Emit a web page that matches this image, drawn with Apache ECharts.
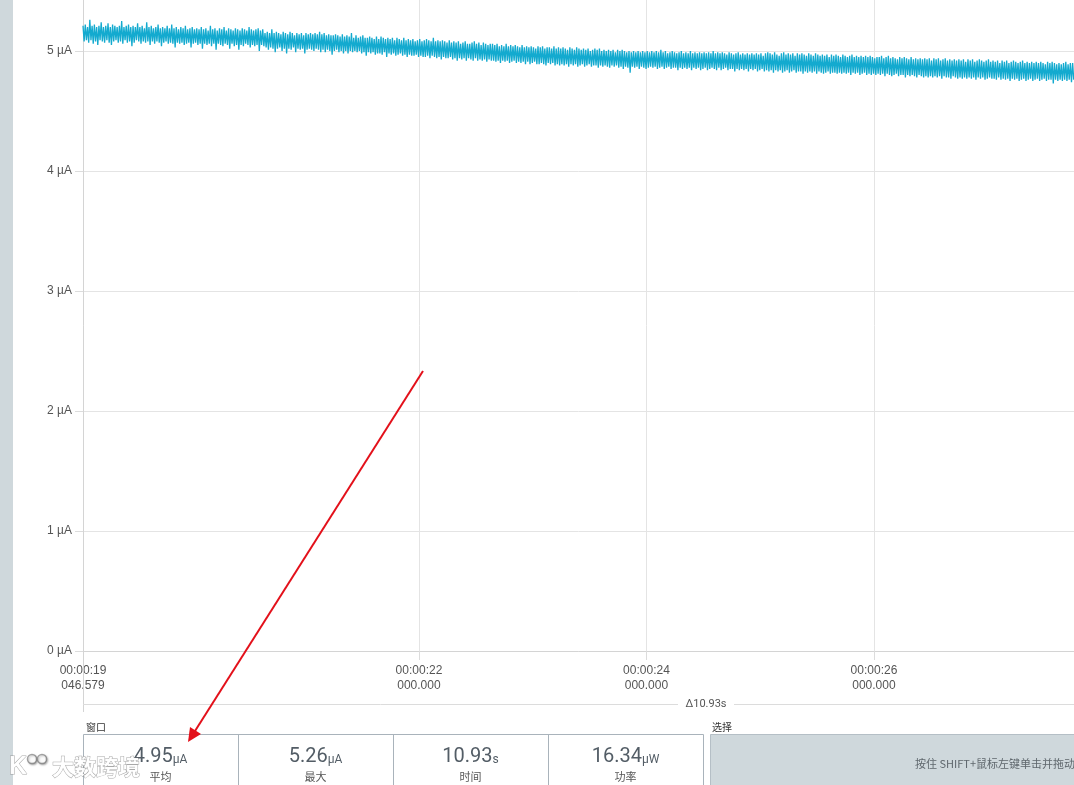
<!DOCTYPE html>
<html>
<head>
<meta charset="utf-8">
<title>Current trace</title>
<script src="https://cdn.jsdelivr.net/npm/echarts@6/dist/echarts.min.js"></script>
<style>
  html, body { margin: 0; padding: 0; background: #ffffff; }
  #chart { width: 1074px; height: 785px; }
</style>
</head>
<body>
<div id="chart"></div>
<script>
// Visible part of the trace: start time (s), shown span (s), sample spacing (s)
const windowStart = 19.046579;
const visibleSpan = 8.712088;
const sampleInterval = 0.01;

// Current samples in µA, one block per second of trace
const currentSegA = [
  5.21,5.08,5.22,5.09,5.20,5.07,5.26,5.09,5.21,5.06, 5.22,5.08,5.20,5.05,5.21,5.09,5.24,5.08,5.20,5.07,
  5.21,5.09,5.23,5.07,5.20,5.05,5.22,5.08,5.21,5.09, 5.20,5.07,5.21,5.08,5.25,5.06,5.20,5.09,5.21,5.07,
  5.22,5.08,5.20,5.04,5.21,5.07,5.20,5.09,5.23,5.08, 5.20,5.06,5.21,5.08,5.19,5.07,5.24,5.08,5.20,5.05,
  5.21,5.08,5.19,5.06,5.20,5.08,5.22,5.07,5.19,5.04, 5.20,5.07,5.19,5.08,5.21,5.06,5.19,5.07,5.22,5.06,
  5.19,5.03,5.20,5.07,5.18,5.06,5.20,5.07,5.19,5.05, 5.21,5.06,5.18,5.07,5.19,5.03,5.20,5.06,5.18,5.07];
const currentSegB = [
  5.19,5.05,5.18,5.06,5.20,5.02,5.18,5.06,5.19,5.05, 5.17,5.06,5.21,5.04,5.18,5.06,5.19,5.01,5.17,5.06,
  5.19,5.05,5.18,5.04,5.20,5.06,5.17,5.05,5.19,5.02, 5.18,5.06,5.17,5.04,5.19,5.05,5.18,5.01,5.17,5.05,
  5.19,5.04,5.18,5.06,5.17,5.05,5.20,5.03,5.18,5.05, 5.17,5.04,5.18,5.05,5.19,5.00,5.17,5.05,5.18,5.04,
  5.15,5.03,5.16,5.01,5.15,5.03,5.18,5.02,5.15,4.99, 5.16,5.02,5.15,5.03,5.14,5.00,5.16,5.02,5.15,4.98,
  5.14,5.02,5.16,5.01,5.15,5.03,5.13,4.99,5.15,5.02, 5.14,5.01,5.15,5.02,5.13,4.98,5.15,5.01,5.14,5.02];
const currentSegC = [
  5.15,5.01,5.14,5.00,5.15,5.02,5.14,5.01,5.16,4.99, 5.14,5.01,5.15,4.99,5.13,5.01,5.14,5.00,5.13,4.97,
  5.13,5.00,5.14,5.01,5.13,4.99,5.12,5.00,5.14,4.98, 5.12,5.00,5.13,4.98,5.12,5.00,5.15,4.99,5.11,5.00,
  5.13,4.99,5.11,5.00,5.12,4.98,5.13,4.99,5.11,4.96, 5.11,4.99,5.12,4.98,5.11,4.99,5.10,4.97,5.12,4.98,
  5.10,4.98,5.12,4.97,5.11,4.99,5.10,4.95,5.11,4.98, 5.10,4.97,5.11,4.98,5.09,4.96,5.11,4.97,5.10,4.98,
  5.09,4.96,5.11,4.97,5.09,4.95,5.10,4.97,5.09,4.96, 5.10,4.96,5.08,4.97,5.09,4.95,5.10,4.96,5.08,4.95];
const currentSegD = [
  5.09,4.95,5.10,4.96,5.09,4.94,5.08,4.96,5.11,4.95, 5.08,4.94,5.09,4.95,5.08,4.93,5.09,4.95,5.08,4.94,
  5.07,4.94,5.09,4.95,5.07,4.93,5.08,4.94,5.07,4.92, 5.08,4.94,5.06,4.93,5.07,4.94,5.08,4.92,5.06,4.94,
  5.06,4.93,5.07,4.92,5.08,4.94,5.06,4.92,5.07,4.93, 5.05,4.92,5.07,4.93,5.06,4.91,5.05,4.93,5.06,4.92,
  5.06,4.92,5.05,4.91,5.06,4.92,5.04,4.90,5.05,4.92, 5.04,4.91,5.06,4.92,5.04,4.90,5.05,4.91,5.04,4.92,
  5.05,4.90,5.04,4.91,5.03,4.90,5.05,4.91,5.03,4.89, 5.04,4.91,5.03,4.89,5.04,4.90,5.03,4.91,5.02,4.89];
const currentSegE = [
  5.04,4.89,5.03,4.90,5.04,4.89,5.02,4.88,5.03,4.90, 5.03,4.89,5.02,4.90,5.04,4.88,5.02,4.89,5.03,4.88,
  5.02,4.89,5.03,4.88,5.02,4.89,5.01,4.87,5.03,4.89, 5.02,4.88,5.01,4.89,5.03,4.87,5.02,4.88,5.01,4.89,
  5.02,4.87,5.01,4.88,5.02,4.89,5.00,4.87,5.01,4.88, 5.02,4.88,5.01,4.86,5.02,4.88,5.00,4.87,5.01,4.88,
  5.00,4.87,5.01,4.86,5.00,4.88,5.01,4.87,4.99,4.88, 5.01,4.86,5.00,4.87,5.01,4.85,5.00,4.87,4.99,4.86,
  5.00,4.82,4.99,4.87,5.00,4.86,4.99,4.87,5.00,4.85, 4.99,4.87,5.00,4.86,4.99,4.85,5.00,4.86,4.99,4.87];
const currentSegF = [
  5.00,4.86,4.99,4.87,5.00,4.85,4.99,4.86,5.01,4.87, 4.99,4.85,5.00,4.86,4.98,4.87,4.99,4.85,5.00,4.86,
  4.99,4.86,4.98,4.84,4.99,4.86,5.00,4.85,4.98,4.86, 4.99,4.85,4.98,4.86,5.00,4.84,4.98,4.86,4.99,4.85,
  4.98,4.86,4.99,4.84,4.98,4.85,4.99,4.86,4.98,4.84, 4.99,4.85,4.98,4.86,5.00,4.85,4.98,4.84,4.99,4.86,
  4.98,4.84,4.99,4.85,4.98,4.86,4.97,4.84,4.99,4.85, 4.98,4.85,4.97,4.83,4.98,4.85,4.99,4.84,4.97,4.85,
  4.98,4.84,4.97,4.85,4.98,4.83,4.97,4.85,4.98,4.84, 4.97,4.85,4.98,4.83,4.97,4.84,4.98,4.85,4.96,4.83];
const currentSegG = [
  4.98,4.84,4.99,4.83,4.98,4.84,4.97,4.82,4.99,4.84, 4.97,4.83,4.96,4.84,4.98,4.82,4.99,4.83,4.97,4.84,
  4.98,4.82,4.97,4.83,4.98,4.84,4.96,4.82,4.98,4.83, 4.97,4.83,4.98,4.81,4.97,4.83,4.96,4.82,4.98,4.83,
  4.97,4.82,4.96,4.83,4.98,4.81,4.97,4.83,4.96,4.82, 4.97,4.81,4.96,4.82,4.97,4.83,4.95,4.81,4.97,4.82,
  4.96,4.82,4.97,4.81,4.96,4.82,4.95,4.81,4.97,4.82, 4.96,4.81,4.95,4.82,4.96,4.80,4.97,4.82,4.95,4.81,
  4.96,4.82,4.95,4.80,4.96,4.81,4.95,4.82,4.96,4.80, 4.95,4.81,4.96,4.80,4.95,4.81,4.94,4.80,4.95,4.81];
const currentSegH = [
  4.95,4.80,4.96,4.81,4.94,4.79,4.95,4.81,4.96,4.80, 4.94,4.79,4.95,4.80,4.94,4.81,4.93,4.79,4.95,4.80,
  4.94,4.80,4.95,4.78,4.94,4.80,4.93,4.79,4.95,4.80, 4.93,4.79,4.94,4.78,4.93,4.80,4.94,4.79,4.93,4.78,
  4.94,4.79,4.93,4.78,4.94,4.79,4.92,4.78,4.94,4.79, 4.93,4.78,4.94,4.79,4.92,4.77,4.93,4.79,4.94,4.78,
  4.92,4.78,4.93,4.77,4.92,4.79,4.93,4.78,4.92,4.77, 4.93,4.78,4.92,4.77,4.93,4.78,4.91,4.77,4.93,4.78,
  4.92,4.77,4.93,4.78,4.91,4.76,4.92,4.78,4.93,4.77, 4.92,4.78,4.91,4.76,4.92,4.77,4.93,4.78,4.91,4.77];
const currentSegI = [
  4.92,4.77,4.91,4.76,4.92,4.78,4.90,4.76,4.92,4.77, 4.91,4.76,4.92,4.77,4.90,4.75,4.91,4.77,4.92,4.76,
  4.91,4.77,4.90,4.75,4.91,4.76,4.92,4.77,4.90,4.75, 4.91,4.76,4.90,4.77,4.91,4.75,4.90,4.76,4.91,4.77,
  4.90,4.75,4.91,4.76,4.90,4.77,4.89,4.75,4.91,4.76, 4.90,4.76,4.91,4.73,4.90,4.76,4.89,4.75,4.90,4.76,
  4.89,4.75,4.90,4.76,4.91,4.75,4.89,4.76,4.90,4.74, 4.90,4.76];

// Axis ticks
const timeTicks = [19.046579, 22, 24, 26];
const currentTicks = [0, 1, 2, 3, 4, 5];

// Window statistics panel
const statValues = ['4.95', '5.26', '10.93', '16.34'];
const statUnits = ['µA', 'µA', 's', 'µW'];
const statNames = ['平均', '最大', '时间', '功率'];
const windowTitle = '窗口';
const selectTitle = '选择';
const selectHint = '按住 SHIFT+鼠标左键单击并拖动以选择';
const deltaLabel = 'Δ10.93s';

const samples = [].concat(currentSegA, currentSegB, currentSegC, currentSegD, currentSegE,
  currentSegF, currentSegG, currentSegH, currentSegI);
const traceData = samples.map((v, i) => [windowStart + i * sampleInterval, v]);

function pad(n, w) { let s = String(n); while (s.length < w) s = '0' + s; return s; }
function formatTime(t) {
  const whole = Math.floor(t + 1e-9);
  const ms = (t - whole) * 1000;
  const hh = Math.floor(whole / 3600), mm = Math.floor(whole / 60) % 60, ss = whole % 60;
  const parts = ms.toFixed(3).split('.');
  return pad(hh, 2) + ':' + pad(mm, 2) + ':' + pad(ss, 2) + '\n' + pad(parts[0], 3) + '.' + parts[1];
}

// Plot area
const plotLeft = 83, plotTop = 0, plotHeight = 651, plotWidth = 991;
const axisFont = '"Liberation Sans", Arial, sans-serif';
const uiFont = 'Roboto, "Noto Sans CJK SC", sans-serif';
const cjkFont = '"Noto Sans CJK SC", sans-serif';

const panelTop = 734, cellW = 155;
const graphics = [];

// Left side bar
graphics.push({ type: 'rect', shape: { x: 0, y: 0, width: 13, height: 785 }, style: { fill: '#cfd8dc' }, z: 1 });

// Y axis extension and window span line with its length label
graphics.push({ type: 'line', shape: { x1: 83.5, y1: 651, x2: 83.5, y2: 712 }, style: { stroke: '#d4d4d4', lineWidth: 1 }, z: 5 });
graphics.push({ type: 'line', shape: { x1: 83, y1: 704.5, x2: 678, y2: 704.5 }, style: { stroke: '#dcdcdc', lineWidth: 1 }, z: 5 });
graphics.push({ type: 'line', shape: { x1: 734, y1: 704.5, x2: 1326, y2: 704.5 }, style: { stroke: '#dcdcdc', lineWidth: 1 }, z: 5 });
graphics.push({ type: 'text', x: 706, y: 704, style: { text: deltaLabel, fill: '#555', font: '11px ' + uiFont, align: 'center', verticalAlign: 'middle' }, z: 5 });

// Window panel
graphics.push({ type: 'text', x: 86, y: 727, style: { text: windowTitle, fill: '#333', font: '10px ' + cjkFont, align: 'left', verticalAlign: 'middle' }, z: 5 });
graphics.push({ type: 'rect', shape: { x: 83.5, y: panelTop + 0.5, width: cellW * 4, height: 70 }, style: { fill: '#fff', stroke: '#a9b3bb', lineWidth: 1 }, z: 5 });
for (let k = 1; k < 4; k++) {
  const x = Math.round(83 + cellW * k) + 0.5;
  graphics.push({ type: 'line', shape: { x1: x, y1: panelTop, x2: x, y2: 800 }, style: { stroke: '#a9b3bb', lineWidth: 1 }, z: 6 });
}
statValues.forEach((val, k) => {
  const cx = 83 + cellW * k + cellW / 2;
  graphics.push({
    type: 'text', x: cx, y: 767, z: 7,
    style: {
      text: '{v|' + val + '}{u|' + statUnits[k] + '}', align: 'center', verticalAlign: 'bottom',
      rich: {
        v: { fontSize: 20, fontFamily: uiFont, fill: '#535d66', verticalAlign: 'bottom' },
        u: { fontSize: 12, fontFamily: uiFont, fill: '#535d66', verticalAlign: 'bottom', padding: [0, 0, 1, 0] }
      }
    }
  });
  graphics.push({ type: 'text', x: cx, y: 777, z: 7, style: { text: statNames[k], fill: '#555', font: '11px ' + cjkFont, align: 'center', verticalAlign: 'middle' } });
});

// Selection panel
graphics.push({ type: 'text', x: 712, y: 727, style: { text: selectTitle, fill: '#333', font: '10px ' + cjkFont, align: 'left', verticalAlign: 'middle' }, z: 5 });
graphics.push({ type: 'rect', shape: { x: 710.5, y: panelTop + 0.5, width: 640, height: 70 }, style: { fill: '#cfd8dc', stroke: '#b5bfc6', lineWidth: 1 }, z: 5 });
graphics.push({ type: 'text', x: 915, y: 764, style: { text: selectHint, fill: '#5f676d', font: '11px ' + cjkFont, align: 'left', verticalAlign: 'middle' }, z: 6 });

// Red pointer arrow
graphics.push({ type: 'line', shape: { x1: 423, y1: 371, x2: 195, y2: 731 }, style: { stroke: '#e3101a', lineWidth: 2 }, z: 20 });
graphics.push({ type: 'polygon', shape: { points: [[188, 742], [201, 734], [190, 727]] }, style: { fill: '#e3101a' }, z: 20 });

// Watermark
const wmStyle = { fill: 'rgba(255,255,255,0.95)', stroke: 'rgba(110,110,110,0.6)', lineWidth: 1, shadowColor: 'rgba(0,0,0,0.35)', shadowBlur: 2, shadowOffsetX: 1, shadowOffsetY: 1 };
graphics.push({ type: 'text', x: 9, y: 767, z: 30, style: Object.assign({ text: 'K', font: 'bold 25px ' + axisFont, align: 'left', verticalAlign: 'middle' }, wmStyle) });
graphics.push({ type: 'circle', shape: { cx: 32, cy: 759, r: 4.5 }, z: 30, style: Object.assign({}, wmStyle, { lineWidth: 1.5 }) });
graphics.push({ type: 'circle', shape: { cx: 42, cy: 759, r: 4.5 }, z: 30, style: Object.assign({}, wmStyle, { lineWidth: 1.5 }) });
graphics.push({ type: 'text', x: 52, y: 767, z: 30, style: Object.assign({ text: '大数跨境', font: 'bold 22px ' + cjkFont, align: 'left', verticalAlign: 'middle' }, wmStyle) });

const chart = echarts.init(document.getElementById('chart'), null, { renderer: 'canvas' });
chart.setOption({
  backgroundColor: '#ffffff',
  animation: false,
  grid: { left: plotLeft, top: plotTop, width: plotWidth, height: plotHeight, containLabel: false },
  xAxis: {
    type: 'value',
    min: windowStart,
    max: windowStart + visibleSpan,
    axisLine: { show: true, lineStyle: { color: '#d4d4d4' } },
    axisTick: { show: true, length: 9, customValues: timeTicks, lineStyle: { color: '#dcdcdc' } },
    axisLabel: {
      customValues: timeTicks, margin: 12, color: '#555', fontSize: 12, lineHeight: 15,
      fontFamily: axisFont, formatter: v => formatTime(v)
    },
    splitLine: { show: true, lineStyle: { color: '#e4e4e4' } }
  },
  yAxis: {
    type: 'value',
    min: 0,
    max: plotHeight / 120,
    axisLine: { show: true, lineStyle: { color: '#d4d4d4' } },
    axisTick: { show: true, length: 8, customValues: currentTicks, lineStyle: { color: '#dcdcdc' } },
    axisLabel: {
      customValues: currentTicks, margin: 11, color: '#555', fontSize: 12, fontFamily: axisFont,
      padding: [4, 0, 0, 0], formatter: v => v + ' µA'
    },
    splitLine: { show: true, lineStyle: { color: '#e4e4e4' } }
  },
  series: [{
    type: 'line',
    data: traceData,
    showSymbol: false,
    sampling: 'none',
    lineStyle: { color: '#13aacf', width: 1.3 },
    z: 3
  }],
  graphic: graphics
});
</script>
</body>
</html>
